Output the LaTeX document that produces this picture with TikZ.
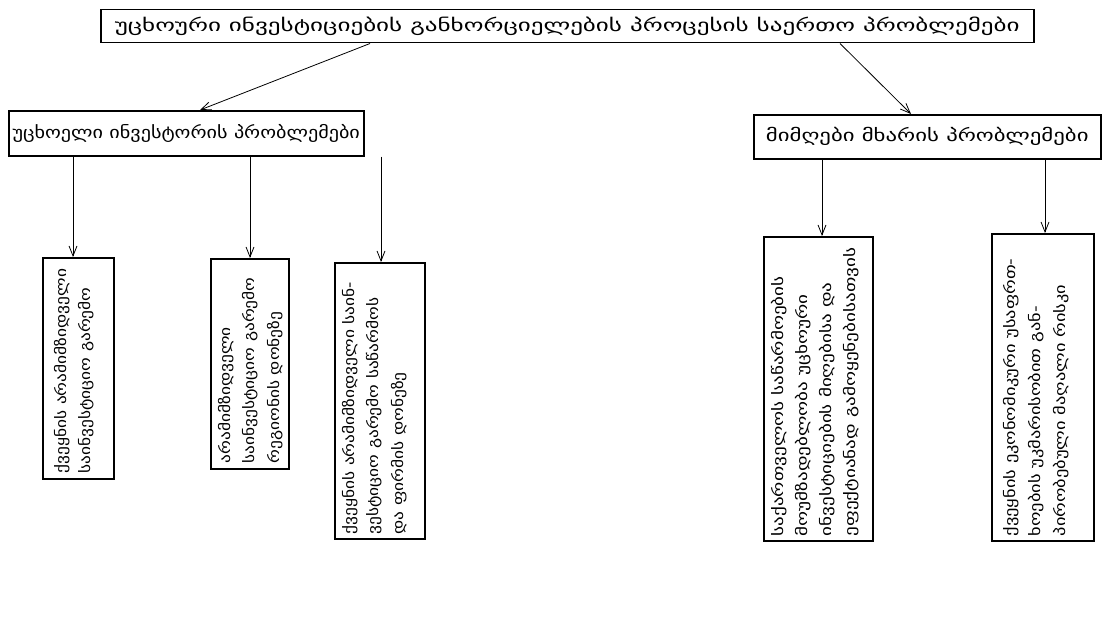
\documentclass[tikz,border=0pt]{standalone}
\usepackage{fontspec}
\setmainfont{DejaVu Sans}
\newfontfamily\geoA[FakeStretch=1.45]{DejaVu Sans}
\newfontfamily\geoB[FakeStretch=1.2]{DejaVu Sans}
\newfontfamily\geoC[FakeStretch=1.34]{DejaVu Sans}
\newfontfamily\geoV[FakeStretch=1.2]{DejaVu Sans}
\newfontfamily\geoW[FakeStretch=1.32]{DejaVu Sans}
\newfontfamily\geoX[FakeStretch=1.27]{DejaVu Sans}
\usetikzlibrary{arrows.meta,calc}
\begin{document}
\begin{tikzpicture}[x=1pt,y=-1pt,
  box/.style={draw,line width=1.5pt,inner sep=0pt,anchor=north west},
  vtext/.style={rotate=90,anchor=north west,align=left,inner sep=0pt,font=\geoV\fontsize{14.5}{24.5}\selectfont},
  arr/.style={line width=0.8pt,-{Straight Barb[length=10pt,width=8pt]}}]
\useasboundingbox (0,0) rectangle (1111,642);
% top
\node[box,minimum width=933pt,minimum height=33pt,font=\geoA\fontsize{17.3}{20}\selectfont] (top) at (100,9)
  {უცხოური ინვესტიციების განხორციელების პროცესის საერთო პრობლემები};
% second level
\node[box,minimum width=355pt,minimum height=45pt,font=\geoB\fontsize{16.8}{20}\selectfont] (lp) at (8,110)
  {უცხოელი ინვესტორის პრობლემები};
\node[box,minimum width=347pt,minimum height=44pt,font=\geoC\fontsize{17}{20}\selectfont] (rp) at (753,114)
  {მიმღები მხარის პრობლემები};
% leaf boxes
\node[box,minimum width=71pt,minimum height=221pt] (b1) at (42,257) {};
\node[box,minimum width=78pt,minimum height=210pt] (b2) at (210,258) {};
\node[box,minimum width=90pt,minimum height=276pt] (b3) at (334,262) {};
\node[box,minimum width=109pt,minimum height=304pt] (b4) at (763,236) {};
\node[box,minimum width=102pt,minimum height=307pt] (b5) at (991,233) {};
% texts
\node[vtext] (t1) at ($(b1.south west)+(12,-6)$)
  {ქვეყნის არამიმზიდველი\\საინვესტიციო გარემო};
\node[vtext] (t2) at ($(b2.south west)+(8,-6)$)
  {არამიმზიდველი\\საინვესტიციო გარემო\\რეგიონის დონეზე};
\node[vtext] (t3) at ($(b3.south west)+(8,-5)$)
  {ქვეყნის არამიმზიდველი საინ-\\ვესტიციო გარემო საწარმოს\\და ფირმის დონეზე};
\node[vtext,font=\geoW\fontsize{14.5}{24}\selectfont] (t4) at ($(b4.south west)+(8,-5)$)
  {საქართველოს საწარმოების\\მოუმზადებლობა უცხოური\\ინვესტიციების მიღებისა და\\ეფექტიანად გამოყენებისათვის};
\node[vtext,font=\geoX\fontsize{14.5}{25}\selectfont] (t5) at ($(b5.south west)+(12,-5)$)
  {ქვეყნის ეკონომიკური უსაფრთ-\\ხოების უკმარისობით გან-\\პირობებული მაღალი რისკი};
% connectors
\coordinate (tl) at ($(top.south west)+(270,0)$);
\coordinate (tr) at ($(top.south west)+(740,0)$);
\draw[arr] (tl) -- ($(lp.north west)+(192,0)$);
\draw[arr] (tr) -- ($(rp.north west)+(158,0)$);
\draw[arr] ($(lp.south west)+(65,0)$) -- ($(b1.north west)+(31,0)$);
\draw[arr] ($(lp.south west)+(242,0)$) -- ($(b2.north west)+(40,0)$);
\draw[arr] ($(lp.south west)+(373,0)$) -- ($(b3.north west)+(47,0)$);
\draw[arr] ($(rp.south west)+(69,0)$) -- ($(b4.north west)+(59,0)$);
\draw[arr] ($(rp.south west)+(292,0)$) -- ($(b5.north west)+(54,0)$);
\end{tikzpicture}
\end{document}
